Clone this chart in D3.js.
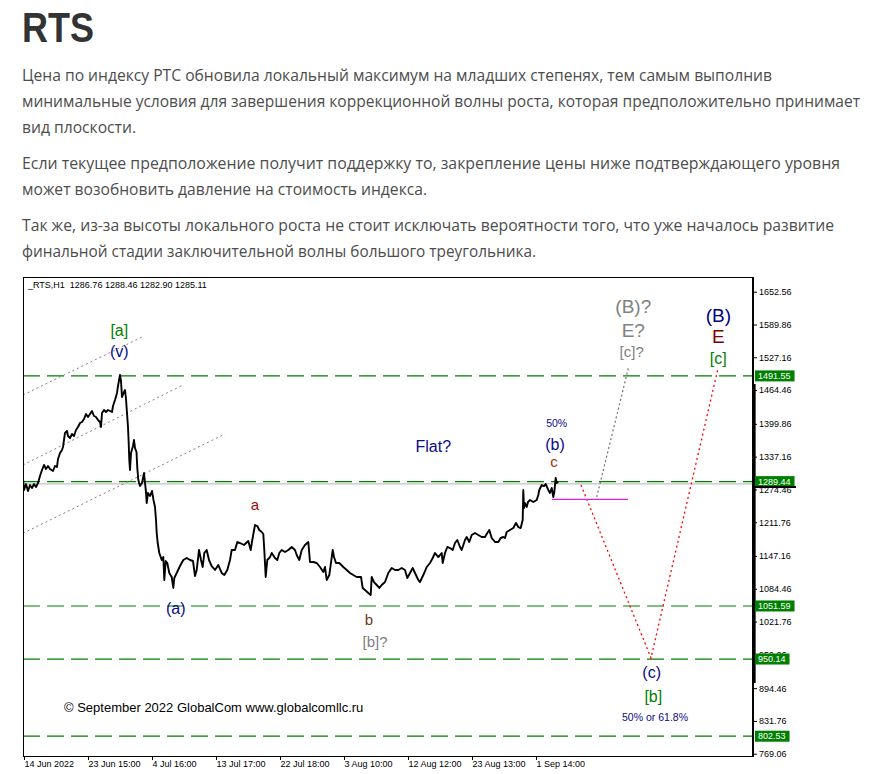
<!DOCTYPE html>
<html><head><meta charset="utf-8">
<script src="https://cdn.jsdelivr.net/npm/d3@7"></script>
<style>body{margin:0;background:#fff;} svg{display:block;}</style>
</head><body>
<svg id="c" width="890" height="774"></svg>
<script>
// ---------- DATA ----------
const titleText = "RTS";
const paragraphLines = [
  "Цена по индексу РТС обновила локальный максимум на младших степенях, тем самым выполнив",
  "минимальные условия для завершения коррекционной волны роста, которая предположительно принимает",
  "вид плоскости.",
  "Если текущее предположение получит поддержку то, закрепление цены ниже подтверждающего уровня",
  "может возобновить давление на стоимость индекса.",
  "Так же, из-за высоты локального роста не стоит исключать вероятности того, что уже началось развитие",
  "финальной стадии заключительной волны большого треугольника."
];
const symbolName = "_RTS,H1";
const lastOHLC = [1286.76, 1288.46, 1282.90, 1285.11];
const copyrightText = "© September 2022 GlobalCom www.globalcomllc.ru";

// price series: [bar index, price]
const priceSeries = [
[0,1296.3],[1,1273.4],[3,1284.8],[5,1271.5],[7,1282.9],[9,1277.2],[11,1284.8],[13,1279.1],[15,1286.8],
[17,1300.1],[19,1311.6],[21,1321.2],[23,1313.5],[25,1319.3],[27,1313.5],[30,1309.7],[32,1319.3],[34,1317.4],
[35,1332.7],[37,1344.1],[39,1349.9],[40,1355.6],[42,1382.4],[44,1386.2],[45,1376.6],[47,1372.8],[49,1380.5],
[51,1376.6],[53,1388.1],[55,1393.8],[57,1401.5],[59,1403.4],[61,1409.1],[63,1418.7],[65,1413.0],[67,1418.7],
[69,1424.4],[71,1414.9],[73,1413.0],[75,1407.2],[77,1403.4],[78,1393.8],[79,1420.6],[81,1426.4],[83,1422.5],
[85,1426.4],[87,1424.4],[89,1422.5],[90,1434.0],[92,1445.5],[94,1458.9],[95,1472.3],[97,1493.3],[98,1481.8],
[99,1451.2],[101,1460.8],[102,1464.6],[103,1447.4],[104,1420.6],[105,1393.8],[105.7,1363.3],[106.3,1330.7],
[107,1311.6],[108,1344.1],[110,1357.5],[111,1369.0],[112,1353.7],[113.5,1346.0],[114.3,1315.4],[115.3,1292.5],
[117,1281.0],[119,1286.8],[121,1305.9],[122,1286.8],[123,1269.6],[123.7,1248.5],[125,1267.6],[127,1261.9],
[129,1271.5],[130.5,1254.2],[132,1240.9],[133,1216.0],[133.7,1191.1],[134.7,1172.0],[136.3,1152.9],
[138.7,1139.5],[140.3,1145.2],[141.3,1101.3],[142.7,1137.6],[144.3,1133.8],[146.3,1114.7],[148.7,1107.0],
[150.3,1086.0],[151.3,1105.1],[153.7,1114.7],[157,1128.0],[160.3,1139.5],[163.7,1143.3],[167,1139.5],
[170,1137.6],[172,1108.9],[173.7,1120.4],[176,1158.6],[178,1139.5],[179.7,1126.1],[181.3,1152.9],
[183.7,1158.6],[186,1139.5],[188.7,1128.0],[192,1120.4],[195.3,1129.9],[198.7,1114.7],[201.3,1110.8],
[204.3,1120.4],[207,1139.5],[208.7,1158.6],[212,1158.6],[214.3,1173.9],[217,1172.0],[221,1168.2],
[225.3,1175.8],[227.7,1158.6],[229.3,1177.8],[232,1206.4],[234.3,1204.5],[236.3,1196.9],[238.7,1193.1],
[240.3,1189.2],[241.3,1158.6],[242.7,1107.0],[244.3,1139.5],[247,1145.2],[248.7,1152.9],[252,1143.3],
[254.3,1139.5],[256.3,1152.9],[258.7,1158.6],[262,1154.8],[265.3,1158.6],[268.7,1164.4],[272,1158.6],
[273.7,1149.1],[276.3,1139.5],[278.7,1158.6],[282,1168.2],[285.3,1173.9],[287,1135.7],[290.3,1135.7],
[293.7,1133.8],[297,1126.1],[300.3,1116.6],[302,1126.1],[303.7,1101.3],[306.3,1110.8],[309.7,1158.6],
[311,1145.2],[313,1133.8],[316.3,1133.8],[320.3,1126.1],[323.7,1120.4],[327,1114.7],[330.3,1110.8],
[333.7,1107.0],[338,1107.0],[339.7,1086.0],[342,1082.1],[345.3,1076.4],[347.7,1072.6],[348.7,1107.0],
[351,1097.4],[353.7,1091.7],[356.3,1086.0],[358.7,1091.7],[362,1097.4],[365.3,1114.7],[368.7,1124.2],
[372,1120.4],[375.3,1120.4],[378.7,1124.2],[382,1120.4],[384.3,1105.1],[387,1114.7],[389.7,1124.2],
[392,1114.7],[395.3,1101.3],[397,1097.4],[400.3,1110.8],[403.7,1126.1],[407,1133.8],[409.7,1143.3],
[412,1152.9],[415.3,1145.2],[418.7,1152.9],[419.7,1133.8],[422,1152.9],[424.3,1164.4],[427,1162.4],
[429.7,1158.6],[432,1172.0],[434.3,1177.8],[437,1164.4],[438.7,1158.6],[442,1177.8],[443.7,1183.5],
[446.3,1173.9],[448.7,1187.3],[452,1191.1],[455.3,1187.3],[458.7,1183.5],[462,1183.5],[464.3,1191.1],
[466.3,1196.9],[468.7,1181.6],[472,1173.9],[475.3,1173.9],[477.7,1181.6],[480.3,1183.5],[482,1181.6],
[483.7,1193.1],[487,1196.9],[490.3,1200.7],[493,1210.3],[495.3,1202.6],[497.7,1200.7],[499.7,1216.0],
[500.3,1273.4],[501,1239.0],[502,1248.5],[503.7,1240.9],[505,1250.4],[507,1254.2],[510.3,1250.4],
[513.7,1254.2],[515.3,1263.8],[516.3,1273.4],[518.7,1282.9],[521,1281.0],[522.7,1284.8],[525.3,1273.4],
[527,1267.6],[528.7,1277.2],[530.3,1260.0],[531.3,1269.6],[532.7,1296.3],[533.7,1286.8],[535.3,1288.7]
];

const yTickValues = [1652.56,1589.86,1527.16,1464.46,1399.86,1337.16,1274.46,1211.76,1147.16,1084.46,1021.76,959.06,894.46,831.76,769.06];
const levelValues = [1491.55,1289.44,1051.59,950.14,802.53];
const xTickIdx = [1,65,129,193,257,321,385,449,513];
const xTickLabels = ["14 Jun 2022","23 Jun 15:00","4 Jul 16:00","13 Jul 17:00","22 Jul 18:00","3 Aug 10:00","12 Aug 12:00","23 Aug 13:00","1 Sep 14:00"];
const channelLines = [
  [[0,1455.0],[119,1566.0]],
  [[0,1321.2],[160,1474.2]],
  [[0,1190.6],[202,1380.5]]
];
const scenarioMain = [[558,1282.9],[628,952],[695,1506]];
const scenarioAlt = [[573.7,1260],[605.3,1506]];
const confirmLevel = [[529,1255.6],[605,1255.6]];
const scaleBarRange = [904.3, 1476.1];
const bidMark = 1279.1;

// wave labels: [text, bar index, price, style]
const waveLabels = [
  ["[a]", 96.3, 1579.3, "green"],
  ["(v)", 96.3, 1537.8, "navy"],
  ["a", 232, 1244.7, "red"],
  ["(a)", 152.7, 1047.7, "navy"],
  ["b", 346, 1024.8, "brown"],
  ["[b]?", 352, 984.6, "grey"],
  ["Flat?", 410.3, 1356.2, "navy"],
  ["50%", 533.7, 1400.9, "navySmall"],
  ["(b)", 532, 1361.3, "navy"],
  ["c", 531, 1327.5, "redc"],
  ["(B)?", 610.3, 1623.9, "greyBig"],
  ["E?", 610.3, 1579.3, "greyBig"],
  ["[c]?", 608.7, 1537.8, "grey"],
  ["(B)", 695.3, 1608.0, "navyBig"],
  ["E", 695.3, 1566.5, "maroonBig"],
  ["[c]", 695.3, 1523.9, "green"],
  ["(c)", 628.7, 924.0, "navy"],
  ["[b]", 630.3, 878.1, "green"],
  ["50% or 61.8%", 632, 839.8, "navySmall"]
];

// ---------- STYLES ----------
const labelStyles = {
  green:{fill:"#008000",size:16},
  navy:{fill:"#0a0a8c",size:16},
  navyBig:{fill:"#000080",size:19},
  navySmall:{fill:"#0a0a8c",size:10.5},
  red:{fill:"#9b0a0a",size:15},
  redc:{fill:"#a8300a",size:15},
  brown:{fill:"#6b3a1a",size:15},
  grey:{fill:"#808080",size:15},
  greyBig:{fill:"#808080",size:19},
  maroonBig:{fill:"#800000",size:19}
};

const svg = d3.select("#c");

// header
svg.append("text").attr("x",22).attr("y",41.7)
  .attr("font-family","Liberation Sans Narrow, Liberation Sans, Arial, sans-serif").attr("font-weight",700)
  .attr("font-size",42).attr("fill","#333")
  .attr("textLength",72).attr("lengthAdjust","spacingAndGlyphs").text(titleText);

const lineBase = [81,107,133,169,195,231,257];
const lineEnd = [772,860,136,840,427,834,536];
paragraphLines.forEach((t,i)=>{
  svg.append("text").attr("x",22).attr("y",lineBase[i])
    .attr("font-family","Liberation Sans Narrow, Open Sans, sans-serif").attr("font-size",16)
    .attr("fill","#4d4d4d")
    .attr("textLength",lineEnd[i]-22).attr("lengthAdjust","spacingAndGlyphs").text(t);
});

// ---------- CHART ----------
const L=23, R=753, T=277, B=756;
const x = d3.scaleLinear().domain([0,730]).range([L,R]);
const y = d3.scaleLinear().domain([764.7,1680.7]).range([B,T]);
const line = d3.line().x(d=>x(d[0])).y(d=>y(d[1]));

const g = svg.append("g");
g.append("defs").append("clipPath").attr("id","plot").append("rect")
  .attr("x",L).attr("y",T).attr("width",R-L).attr("height",B-T);
const plot = g.append("g").attr("clip-path","url(#plot)");

// close line (grey)
plot.append("line").attr("x1",L).attr("x2",R)
  .attr("y1",y(lastOHLC[3])).attr("y2",y(lastOHLC[3]))
  .attr("stroke","#c0c0c0").attr("stroke-width",1.2);

// level lines
plot.selectAll(".lvl").data(levelValues).enter().append("line")
  .attr("x1",L).attr("x2",R).attr("y1",d=>y(d)).attr("y2",d=>y(d))
  .attr("stroke","#008000").attr("stroke-width",1.2).attr("stroke-dasharray","17,7");

// channel lines
plot.selectAll(".ch").data(channelLines).enter().append("path")
  .attr("d",line).attr("fill","none").attr("stroke","#808080")
  .attr("stroke-width",1).attr("stroke-dasharray","2,3");

// scenarios
plot.append("path").datum(scenarioAlt).attr("d",line).attr("fill","none")
  .attr("stroke","#707070").attr("stroke-width",1.2).attr("stroke-dasharray","2,2.5");
plot.append("path").datum(scenarioMain).attr("d",line).attr("fill","none")
  .attr("stroke","#ff0000").attr("stroke-width",1.3).attr("stroke-dasharray","2,3");
plot.append("path").datum(confirmLevel).attr("d",line).attr("fill","none")
  .attr("stroke","#e020e0").attr("stroke-width",1.2);

// price
plot.append("path").datum(priceSeries).attr("d",line).attr("fill","none")
  .attr("stroke","#000").attr("stroke-width",1.9).attr("stroke-linejoin","round");

// wave labels
plot.selectAll(".wl").data(waveLabels).enter().append("text")
  .attr("x",d=>x(d[1])).attr("y",d=>y(d[2]))
  .attr("text-anchor","middle").attr("dominant-baseline","central")
  .attr("font-family","Liberation Sans, Arial, sans-serif")
  .attr("font-size",d=>labelStyles[d[3]].size)
  .attr("fill",d=>labelStyles[d[3]].fill).text(d=>d[0]);

// header label in chart
g.append("text").attr("x",L+5).attr("y",T+11)
  .attr("font-family","Liberation Sans, Arial, sans-serif").attr("font-size",9).attr("fill","#000")
  .attr("xml:space","preserve")
  .text(symbolName+"  "+lastOHLC.map(v=>v.toFixed(2)).join(" "));

// copyright
g.append("text").attr("x",64).attr("y",711.5)
  .attr("font-family","Liberation Sans, Arial, sans-serif").attr("font-size",13).attr("fill","#000")
  .text(copyrightText);

// frame
g.append("rect").attr("x",L+0.5).attr("y",T+0.5).attr("width",R-L-1).attr("height",B-T)
  .attr("fill","none").attr("stroke","#000").attr("stroke-width",1);

// y axis
const yAxis = d3.axisRight(y).tickValues(yTickValues).tickFormat(d3.format(".2f")).tickSize(4).tickSizeOuter(0);
const ya = g.append("g").attr("transform",`translate(${R},0)`).call(yAxis);
ya.select(".domain").remove();
ya.selectAll("text").attr("font-family","Liberation Sans, Arial, sans-serif").attr("font-size",9).attr("fill","#000").attr("x",6);
ya.selectAll("line").attr("stroke","#000");
g.append("line").attr("x1",R+0.5).attr("x2",R+0.5).attr("y1",T).attr("y2",B+1).attr("stroke","#000");

// scale bar (thick)
g.append("line").attr("x1",R+1).attr("x2",R+1).attr("y1",y(scaleBarRange[1])).attr("y2",y(scaleBarRange[0]))
  .attr("stroke","#000").attr("stroke-width",3.3);

// level tags
levelValues.forEach(v=>{
  const tg = g.append("g");
  const t = tg.append("text").attr("x",R+5).attr("y",y(v)).attr("dominant-baseline","central")
    .attr("font-family","Liberation Sans, Arial, sans-serif").attr("font-size",9).attr("fill","#fff").text(v.toFixed(2));
  const w = t.node().getComputedTextLength();
  tg.insert("rect","text").attr("x",R+2).attr("y",y(v)-5.5).attr("width",w+7).attr("height",11).attr("fill","#008000");
});
// bid mark
g.append("line").attr("x1",R).attr("x2",R+43).attr("y1",y(bidMark)).attr("y2",y(bidMark))
  .attr("stroke","#000").attr("stroke-width",2);

// x axis
const xAxis = d3.axisBottom(x).tickValues(xTickIdx).tickFormat((d,i)=>xTickLabels[i]).tickSize(4).tickSizeOuter(0);
const xa = g.append("g").attr("transform",`translate(0,${B})`).call(xAxis);
xa.select(".domain").remove();
xa.selectAll("text").attr("font-family","Liberation Sans, Arial, sans-serif").attr("font-size",9)
  .attr("fill","#000").attr("text-anchor","start").attr("x",0).attr("dy","0.9em").attr("y",3);
xa.selectAll("line").attr("stroke","#000");
</script>
</body></html>
